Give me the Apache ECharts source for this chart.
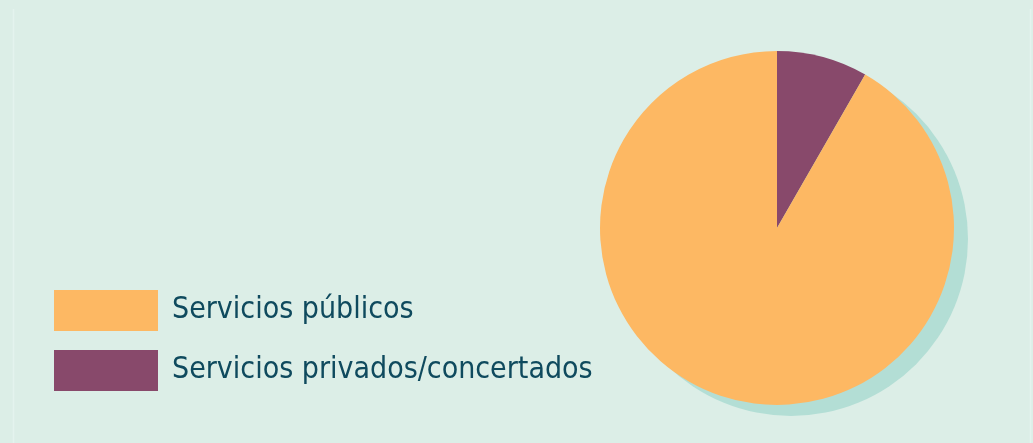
<!DOCTYPE html>
<html>
<head>
<meta charset="utf-8">
<script src="https://cdn.jsdelivr.net/npm/echarts@6/dist/echarts.min.js"></script>
<style>
html,body{margin:0;padding:0;background:#dceee7;}
#chart{width:1033px;height:443px;}
</style>
</head>
<body>
<div id="chart"></div>
<script>
const categories = ['Servicios privados/concertados', 'Servicios públicos'];
const values = [8.3, 91.7];
const colors = ['#88496b', '#fdb863'];
const legendOrder = ['Servicios públicos', 'Servicios privados/concertados'];

const chart = echarts.init(document.getElementById('chart'));
const data = categories.map((c, i) => ({ name: c, value: values[i], itemStyle: { color: colors[i] } }));
const total = values.reduce((a, b) => a + b, 0);

chart.setOption({
  backgroundColor: '#dceee7',
  animation: false,
  graphic: [
    { type: 'line', shape: { x1: 13.5, y1: 9, x2: 13.5, y2: 443 }, style: { stroke: '#e4f3ee', lineWidth: 1.5 }, silent: true },
    { type: 'line', shape: { x1: 1030.5, y1: 9, x2: 1030.5, y2: 443 }, style: { stroke: '#e4f3ee', lineWidth: 1.5 }, silent: true }
  ],
  legend: {
    orient: 'vertical',
    left: 54,
    top: 290,
    padding: 0,
    itemWidth: 104,
    itemHeight: 41,
    itemGap: 19,
    icon: 'rect',
    selectedMode: false,
    data: legendOrder,
    textStyle: {
      fontFamily: '"DejaVu Sans Condensed", sans-serif',
      fontSize: 30,
      color: '#0f4a5e',
      padding: [0, 0, 0, 9]
    }
  },
  series: [
    {
      type: 'pie',
      name: 'shadow',
      silent: true,
      center: [791, 239],
      radius: 177,
      label: { show: false },
      labelLine: { show: false },
      emphasis: { disabled: true },
      data: [{ name: '_shadow', value: total, itemStyle: { color: '#b3ded5' } }],
      z: 1
    },
    {
      type: 'pie',
      center: [777, 228],
      radius: 177,
      startAngle: 90,
      clockwise: true,
      label: { show: false },
      labelLine: { show: false },
      emphasis: { disabled: true },
      itemStyle: { borderWidth: 0 },
      data: data,
      z: 2
    }
  ]
});
</script>
</body>
</html>
